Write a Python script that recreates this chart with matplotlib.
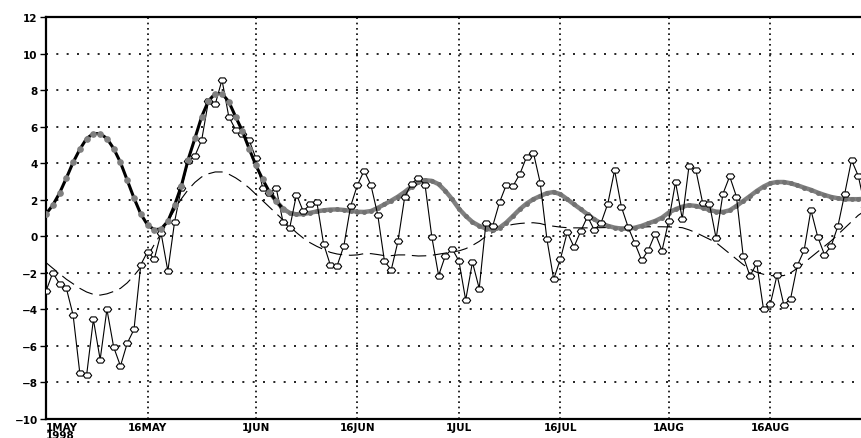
import pandas as pd
import matplotlib
matplotlib.use("Agg")
import matplotlib.pyplot as plt
from matplotlib.path import Path

# daily values from 1 May 1998
observed = [-3.0, -2.0, -2.6, -2.84, -4.3, -7.5, -7.6, -4.55, -6.75, -4.0,
            -6.07, -7.1, -5.85, -5.1, -1.56, -0.84, -1.24, 0.18, -1.9, 0.8,
            2.63, 4.1, 4.4, 5.27, 7.4, 7.22, 8.56, 6.55, 5.84, 5.6,
            5.27, 4.28, 2.66, 2.35, 2.66, 0.8, 0.45, 2.28, 1.37, 1.74,
            1.9, -0.4, -1.57, -1.62, -0.53, 1.64, 2.8, 3.59, 2.8, 1.19,
            -1.36, -1.84, -0.27, 2.17, 2.88, 3.2, 2.8, -0.04, -2.15, -1.06,
            -0.68, -1.35, -3.49, -1.42, -2.86, 0.75, 0.57, 1.86, 2.81, 2.76,
            3.4, 4.35, 4.58, 2.94, -0.16, -2.35, -1.24, 0.22, -0.58, 0.28,
            1.08, 0.34, 0.73, 1.79, 3.61, 1.61, 0.5, -0.39, -1.31, -0.75,
            0.15, -0.79, 0.86, 2.96, 0.95, 3.87, 3.63, 1.84, 1.79, -0.12,
            2.32, 3.28, 2.17, -1.09, -2.17, -1.48, -4.0, -3.72, -2.12, -3.76,
            -3.41, -1.59, -0.77, 1.44, -0.02, -1.0, -0.53, 0.57, 2.34, 4.17,
            3.3, 1.6]

filtered = [1.22, 1.7, 2.36, 3.18, 4.04, 4.76, 5.35, 5.62, 5.62, 5.35,
            4.8, 4.04, 3.07, 2.09, 1.22, 0.62, 0.36, 0.4, 0.82, 1.7,
            2.76, 4.2, 5.36, 6.55, 7.41, 7.81, 7.81, 7.37, 6.55, 5.77,
            4.8, 3.89, 3.12, 2.43, 1.93, 1.51, 1.28, 1.2, 1.22, 1.28,
            1.36, 1.42, 1.46, 1.47, 1.44, 1.39, 1.34, 1.33, 1.38, 1.55,
            1.75, 1.95, 2.17, 2.43, 2.72, 2.95, 3.07, 3.03, 2.85, 2.48,
            2.03, 1.51, 1.11, 0.78, 0.57, 0.42, 0.35, 0.47, 0.75, 1.11,
            1.48, 1.79, 2.03, 2.2, 2.36, 2.42, 2.3, 2.03, 1.75, 1.48,
            1.2, 0.93, 0.71, 0.57, 0.47, 0.42, 0.42, 0.47, 0.57, 0.71,
            0.84, 1.02, 1.3, 1.48, 1.62, 1.7, 1.66, 1.57, 1.44, 1.35,
            1.33, 1.42, 1.66, 1.93, 2.2, 2.48, 2.72, 2.9, 2.97, 2.97,
            2.9, 2.79, 2.66, 2.54, 2.39, 2.26, 2.15, 2.08, 2.03, 2.03,
            2.03, 2.05]

lowfreq = [-1.44, -1.75, -2.05, -2.35, -2.6, -2.85, -3.05, -3.18, -3.22, -3.15,
           -3.02, -2.85, -2.55, -2.15, -1.7, -1.1, -0.45, 0.15, 0.8, 1.45,
           2.05, 2.55, 2.95, 3.25, 3.42, 3.52, 3.52, 3.4, 3.2, 2.95,
           2.65, 2.3, 1.95, 1.6, 1.25, 0.9, 0.55, 0.2, -0.1, -0.35,
           -0.55, -0.72, -0.88, -0.97, -1.02, -1.04, -1.02, -0.95, -0.95, -1.0,
           -1.06, -1.06, -1.02, -1.02, -1.05, -1.08, -1.07, -1.04, -0.98, -0.92,
           -0.86, -0.8, -0.68, -0.5, -0.28, 0.0, 0.22, 0.42, 0.57, 0.65,
           0.7, 0.73, 0.74, 0.7, 0.6, 0.55, 0.5, 0.47, 0.46, 0.46,
           0.46, 0.47, 0.47, 0.48, 0.48, 0.49, 0.49, 0.5, 0.5, 0.52,
           0.52, 0.52, 0.51, 0.5, 0.47, 0.35, 0.2, 0.02, -0.16, -0.35,
           -0.65, -0.95, -1.25, -1.55, -1.8, -1.97, -2.08, -2.15, -2.17, -2.15,
           -2.0, -1.75, -1.45, -1.15, -0.85, -0.55, -0.25, 0.1, 0.45, 0.8,
           1.15, 1.4]

tick_dates = ["1998-05-01", "1998-05-16", "1998-06-01", "1998-06-16",
              "1998-07-01", "1998-07-16", "1998-08-01", "1998-08-16"]
tick_labels = ["1MAY\n1998", "16MAY", "1JUN", "16JUN", "1JUL", "16JUL", "1AUG", "16AUG"]
y_ticks = list(range(-10, 13, 2))

dates = pd.date_range("1998-05-01", periods=len(observed), freq="D")
black_end = 36   # black curve up to early June
gray_start = 33

# flattened hexagon marker like the original
hexa = Path([(-1, 0), (-0.55, 0.62), (0.55, 0.62), (1, 0), (0.55, -0.62),
             (-0.55, -0.62), (-1, 0)], closed=True)

fig = plt.figure(figsize=(8.61, 4.39), dpi=100)
ax = fig.add_axes([46 / 861, 1 - 420 / 439, 1 - 46 / 861, (420 - 18) / 439])

ax.plot(dates, lowfreq, color="black", lw=0.8, dashes=(13, 6), zorder=3)
ax.plot(dates[gray_start:], filtered[gray_start:], color="#808080", lw=3.2,
        marker="o", ms=2.5, mfc="#727272", mec="#727272", zorder=4)
ax.plot(dates, observed, color="black", lw=0.8, marker=hexa, ms=6,
        mfc="white", mec="black", mew=0.8, zorder=5)
ax.plot(dates[:black_end], filtered[:black_end], color="black", lw=2.2,
        marker="o", ms=3.8, mfc="#808080", mec="#808080", zorder=6)

ax.set_ylim(-10, 12)
ax.set_xlim(dates[0], dates[0] + pd.Timedelta(days=120.4))
ax.set_yticks(y_ticks)
ax.set_yticklabels([f"\u2212{abs(v)}" if v < 0 else str(v) for v in y_ticks])
ax.set_xticks(pd.to_datetime(tick_dates))
ax.set_xticklabels(tick_labels, linespacing=0.8)
ax.get_xticklabels()[0].set_ha("left")

for lab in ax.get_xticklabels() + ax.get_yticklabels():
    lab.set_fontsize(7.5)
    lab.set_fontweight("bold")

ax.tick_params(axis="y", direction="out", length=4, width=1, pad=2)
ax.tick_params(axis="x", direction="out", length=0, pad=2)
ax.grid(True, axis="y", color="black", lw=1.2, linestyle=(0, (1.2, 5)))
ax.grid(True, axis="x", color="black", lw=1.2, linestyle=(0, (1.0, 2.2)))

ax.spines["right"].set_visible(False)
for side in ["left", "bottom", "top"]:
    ax.spines[side].set_linewidth(1.6)

fig.savefig("out.png", dpi=100)
